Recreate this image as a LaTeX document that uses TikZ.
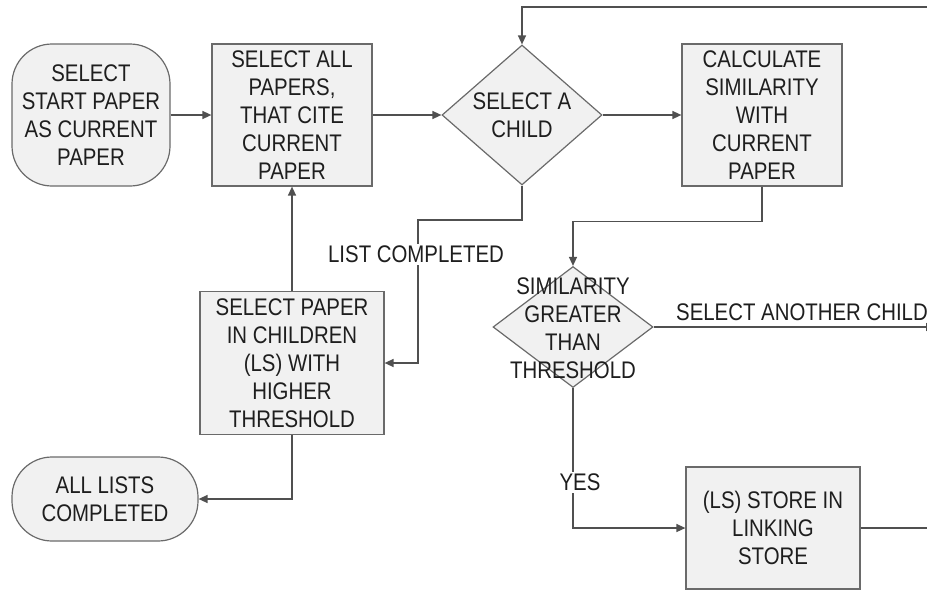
\documentclass[tikz,border=0pt]{standalone}
\usepackage{fontspec}
\setmainfont[FakeStretch=0.85]{Liberation Sans}
\usepackage{xcolor}
\usetikzlibrary{arrows.meta, shapes.geometric}

\definecolor{linegray}{HTML}{505050}
\definecolor{boxgray}{HTML}{6A6A6A}
\definecolor{boxfill}{HTML}{F1F1F1}
\definecolor{inkgray}{HTML}{1E1E1E}

\begin{document}
\begin{tikzpicture}[
  x=1pt, y=-1pt,
  >={Triangle[length=9pt, width=8pt]},
  font=\fontsize{24}{28}\selectfont,
  text=inkgray,
  block/.style={draw=boxgray, fill=boxfill, line width=1.2pt,
    minimum width=160pt, minimum height=142pt, inner sep=0pt, align=center},
  term/.style={block, rounded corners=40pt},
  decision/.style={diamond, draw=boxgray, fill=boxfill, line width=1.2pt,
    inner sep=0pt},
  flow/.style={draw=linegray, line width=1.4pt},
  tag/.style={fill=white, inner sep=2pt},
  ]
  \useasboundingbox (0,0) rectangle (927,590);

  % top row
  \node[term, minimum width=158pt] (start) at (91,115)
    {SELECT\\START PAPER\\AS CURRENT\\PAPER};
  \node[block] (cite) at (292,115)
    {SELECT ALL\\PAPERS,\\THAT CITE\\CURRENT\\PAPER};
  \node[decision, minimum width=160pt, minimum height=140pt] (child) at (522,115) {};
  \node[align=center] (childtxt) at (child) {SELECT A\\CHILD};
  \node[block] (calc) at (762,115)
    {CALCULATE\\SIMILARITY\\WITH\\CURRENT\\PAPER};

  % middle row
  \node[block, minimum width=184pt, minimum height=143pt] (higher) at (292,363)
    {SELECT PAPER\\IN CHILDREN\\(LS) WITH\\HIGHER\\THRESHOLD};
  \node[decision, minimum width=160pt, minimum height=121pt] (sim) at (573,327) {};
  \node[align=center] (simtxt) at (573,328) {SIMILARITY\\GREATER\\THAN\\THRESHOLD};

  % bottom row
  \node[term, minimum width=186pt, minimum height=84pt] (done) at (105,499)
    {ALL LISTS\\COMPLETED};
  \node[block, minimum width=174pt, minimum height=122pt] (store) at (773,528)
    {(LS) STORE IN\\LINKING\\STORE};

  % loose ends at the right border
  \coordinate (loopin) at (927,7);
  \coordinate (nextout) at (935,327);
  \coordinate (storeout) at (927,528);
  \coordinate (listx) at (418,220);

  % connectors
  \draw[flow, ->] (start) -- (cite);
  \draw[flow, ->] (cite) -- (child);
  \draw[flow, ->] (child) -- (calc);
  \draw[flow, ->] (loopin) -| (child.north);
  \draw[flow, ->] (calc.south) -- ++(0,35) -| (sim.north);
  \draw[flow, ->] (child.south) |- (listx) |- (higher.east);
  \draw[flow, ->] (higher) -- (cite);
  \draw[flow, ->] (higher.south) |- (done.east);
  \draw[flow, ->] (sim.south) |- (store.west);
  \draw[flow, ->] (sim.east) -- (nextout);
  \draw[flow] (store.east) -- (storeout);

  % edge labels
  \node[tag] (listlbl) at (416,254) {LIST COMPLETED};
  \node[tag] (yeslbl) at (580,482) {YES};
  \node[anchor=base east, inner sep=0pt] (nextlbl) at (928,320) {SELECT ANOTHER CHILD};
\end{tikzpicture}
\end{document}
